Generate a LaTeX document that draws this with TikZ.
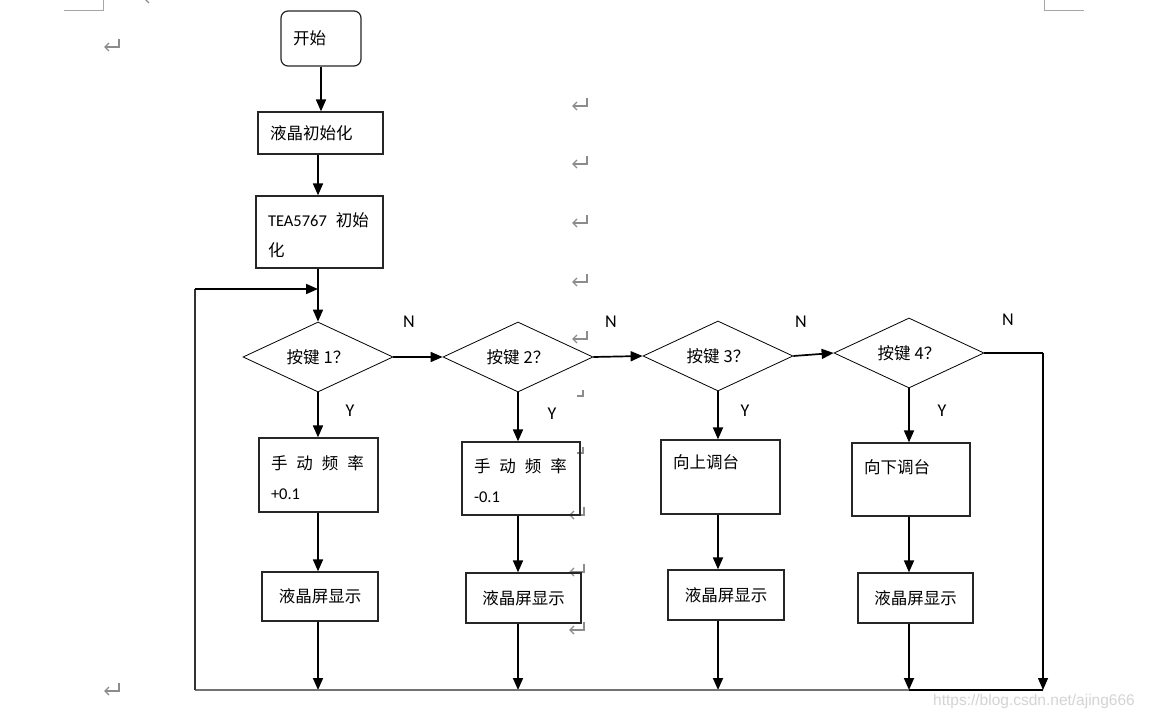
\documentclass[tikz,border=0pt]{standalone}
\usepackage{fontspec}
\setmainfont{Carlito}
\newfontfamily\cjk{Noto Sans CJK SC}
\newfontfamily\wmfont{Liberation Sans}
\usetikzlibrary{arrows.meta,shapes.geometric}
\newcommand\retmk[2]{%
  \draw[mk] (#1+7,#2-6) -- (#1+7,#2+2) -- (#1-7,#2+2);
  \draw[mk] (#1-3,#2-2) -- (#1-7,#2+2) -- (#1-3,#2+6);}
\newcommand\cornmk[2]{%
  \draw[mk] (#1,#2-6) -- (#1,#2) -- (#1-6,#2);}
\newcommand\sprd{\hspace{9pt}}
\begin{document}
\begin{tikzpicture}[x=1pt,y=-1pt,
  cjkf/.style={font=\cjk\fontsize{16.5}{30}\selectfont},
  box/.style={draw=black!85,line width=1.2pt,rectangle,inner ysep=0pt,inner xsep=12pt,cjkf},
  dia/.style={draw=black,diamond,shape aspect=2.1,inner sep=0pt,minimum width=150pt,minimum height=70pt,line width=0.8pt,cjkf},
  ln/.style={line width=1.7pt,draw=black},
  arr/.style={ln,-{Triangle[length=12pt,width=10pt]}},
  lab/.style={font=\fontsize{18}{20}\selectfont,inner sep=0pt},
  mk/.style={draw=black!45,line width=1.1pt},
  pg/.style={draw=black!35,line width=1pt}]
\useasboundingbox (0,0) rectangle (1149,719);
\fill[white] (0,0) rectangle (1149,719);

% page artefacts
\draw[pg] (64,11) -- (103,11) -- (103,0);
\draw[pg] (1044,0) -- (1044,11) -- (1084,11);
\retmk{152}{-3}
\retmk{112}{45}
\retmk{112}{689}
\retmk{580}{104}
\retmk{580}{162}
\retmk{580}{221}
\retmk{580}{280}
\retmk{580}{337}
\cornmk{583}{396}
\cornmk{583}{453}
\retmk{577}{513}
\retmk{577}{570}
\retmk{577}{628}

% main column
\node[box,rounded corners=7pt,align=left,text width=56pt,minimum height=55pt] (start) at (321,38.5) {\raisebox{1.5pt}{开始}};
\node[box,align=left,text width=101pt,minimum height=42pt] (lcdinit) at (320.5,133) {液晶初始化};
\node[box,align=left,text width=103pt,minimum height=72pt] (tea) at (319.5,232) {\rule{0pt}{20pt}{\rmfamily TEA5767}\hspace{9pt}初始\\化};

% decisions
\node[dia] (d1) at (318,357) {按键\hspace{4pt}1？};
\node[dia] (d2) at (518,357) {按键\hspace{4pt}2？};
\node[dia] (d3) at (718,356) {按键\hspace{4pt}3？};
\node[dia] (d4) at (909,353) {按键\hspace{4pt}4？};

% actions
\node[box,align=left,text width=95pt,minimum height=74pt] (box1) at (318.5,475) {\rule{0pt}{19pt}\mbox{手\sprd 动\sprd 频\sprd 率}\\{\rmfamily +0.1}};
\node[box,align=left,text width=94pt,minimum height=73pt] (box2) at (521,478.5) {\rule{0pt}{19pt}\mbox{手\sprd 动\sprd 频\sprd 率}\\{\rmfamily -0.1}};
\node[box,align=left,text width=95pt,minimum height=74pt] (box3) at (720.5,477) {向上调台\\\mbox{}};
\node[box,align=left,text width=94pt,minimum height=73pt] (box4) at (911,479.5) {\rule{0pt}{18pt}向下调台\\\mbox{}};

\node[box,minimum width=116pt,minimum height=49pt] (lcd1) at (320,596.5) {液晶屏显示};
\node[box,minimum width=115pt,minimum height=50pt] (lcd2) at (523.5,598) {液晶屏显示};
\node[box,minimum width=116pt,minimum height=50pt] (lcd3) at (726,595) {液晶屏显示};
\node[box,minimum width=115pt,minimum height=50pt] (lcd4) at (915.5,598) {液晶屏显示};

% labels
\node[lab] (n1) at (409,322) {N};
\node[lab] (n2) at (611,322) {N};
\node[lab] (n3) at (801,322) {N};
\node[lab] (n4) at (1008,320) {N};
\node[lab] (y1) at (350,411) {Y};
\node[lab] (y2) at (552,414) {Y};
\node[lab] (y3) at (745,411) {Y};
\node[lab] (y4) at (942,411) {Y};

% helper coordinates
\coordinate (join) at (318,289);
\coordinate (loopL) at (195,289);
\coordinate (botL) at (195,690);
\coordinate (botR) at (1043,690);
\coordinate (rt) at (1043,353);
\coordinate (bot1) at (d1.south |- botL);
\coordinate (bot2) at (d2.south |- botL);
\coordinate (bot3) at (d3.south |- botL);
\coordinate (bot4) at (d4.south |- botL);

% connectors: main column
\draw[arr] (start.south) -- (start.south |- lcdinit.north);
\draw[arr] (lcdinit.south -| d1.north) -- (d1.north |- tea.north);
\draw[arr] (tea.south -| d1.north) -- (d1.north);

% decision chain
\draw[arr] (d1.east) -- (d2.west);
\draw[arr] (d2.east) -- (d3.west);
\draw[arr] (d3.east) -- (d4.west);
\draw[line width=1.2pt] (d4.east) -- (rt);
\draw[arr,line width=1.3pt] (rt) -- (botR);

% columns
\foreach \d/\b/\l/\e in {d1/box1/lcd1/bot1,d2/box2/lcd2/bot2,d3/box3/lcd3/bot3,d4/box4/lcd4/bot4}{
  \draw[arr] (\d.south) -- (\d.south |- \b.north);
  \draw[arr] (\d.south |- \b.south) -- (\d.south |- \l.north);
  \draw[arr] (\d.south |- \l.south) -- (\e);
}

% return loop
\draw[line width=1.2pt] (botR) -- (bot4);
\draw[draw=black!55,line width=1.8pt] (bot4) -- (botL);
\draw[draw=black!80,line width=1.5pt] (botL) -- (loopL);
\draw[arr] (loopL) -- (join);

% watermark
\node[anchor=west,inner sep=0pt,text=black!17,font=\wmfont\fontsize{15.5}{17}\selectfont] (wm) at (933,701) {https://blog.csdn.net/ajing666};
\end{tikzpicture}
\end{document}
